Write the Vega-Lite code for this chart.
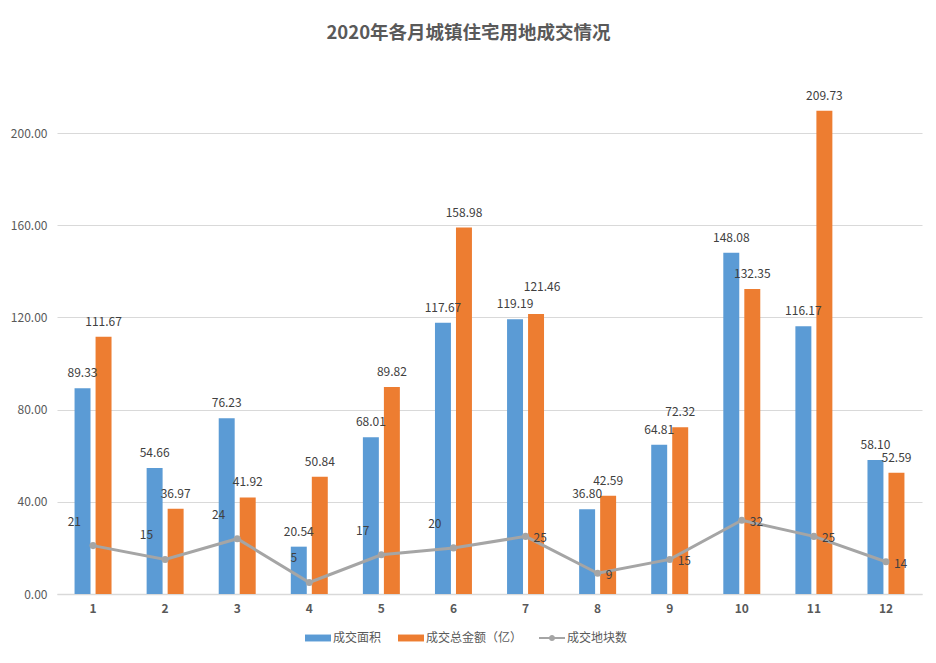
{
  "$schema": "https://vega.github.io/schema/vega-lite/v6.json",
  "autosize": "none",
  "width": 865,
  "height": 507,
  "padding": {"left": 57, "top": 87, "right": 14, "bottom": 69},
  "background": "white",
  "config": {
    "font": "Noto Sans CJK SC",
    "view": {"stroke": null}
  },
  "title": {
    "text": "2020年各月城镇住宅用地成交情况",
    "fontSize": 18.5,
    "fontWeight": "bold",
    "color": "#595959",
    "anchor": "middle",
    "dx": -21,
    "offset": 45
  },
  "data": {
    "values": [
      {"month": 1, "series": "成交面积", "value": 89.33},
      {"month": 1, "series": "成交总金额（亿）", "value": 111.67},
      {"month": 1, "series": "成交地块数", "value": 21},
      {"month": 2, "series": "成交面积", "value": 54.66},
      {"month": 2, "series": "成交总金额（亿）", "value": 36.97},
      {"month": 2, "series": "成交地块数", "value": 15},
      {"month": 3, "series": "成交面积", "value": 76.23},
      {"month": 3, "series": "成交总金额（亿）", "value": 41.92},
      {"month": 3, "series": "成交地块数", "value": 24},
      {"month": 4, "series": "成交面积", "value": 20.54},
      {"month": 4, "series": "成交总金额（亿）", "value": 50.84},
      {"month": 4, "series": "成交地块数", "value": 5},
      {"month": 5, "series": "成交面积", "value": 68.01},
      {"month": 5, "series": "成交总金额（亿）", "value": 89.82},
      {"month": 5, "series": "成交地块数", "value": 17},
      {"month": 6, "series": "成交面积", "value": 117.67},
      {"month": 6, "series": "成交总金额（亿）", "value": 158.98},
      {"month": 6, "series": "成交地块数", "value": 20},
      {"month": 7, "series": "成交面积", "value": 119.19},
      {"month": 7, "series": "成交总金额（亿）", "value": 121.46},
      {"month": 7, "series": "成交地块数", "value": 25},
      {"month": 8, "series": "成交面积", "value": 36.80},
      {"month": 8, "series": "成交总金额（亿）", "value": 42.59},
      {"month": 8, "series": "成交地块数", "value": 9},
      {"month": 9, "series": "成交面积", "value": 64.81},
      {"month": 9, "series": "成交总金额（亿）", "value": 72.32},
      {"month": 9, "series": "成交地块数", "value": 15},
      {"month": 10, "series": "成交面积", "value": 148.08},
      {"month": 10, "series": "成交总金额（亿）", "value": 132.35},
      {"month": 10, "series": "成交地块数", "value": 32},
      {"month": 11, "series": "成交面积", "value": 116.17},
      {"month": 11, "series": "成交总金额（亿）", "value": 209.73},
      {"month": 11, "series": "成交地块数", "value": 25},
      {"month": 12, "series": "成交面积", "value": 58.10},
      {"month": 12, "series": "成交总金额（亿）", "value": 52.59},
      {"month": 12, "series": "成交地块数", "value": 14}
    ]
  },
  "encoding": {
    "x": {
      "field": "month",
      "type": "ordinal",
      "scale": {"paddingInner": 0.487, "paddingOuter": 0.2435},
      "axis": {
        "title": null,
        "labelAngle": 0,
        "labelFontWeight": "bold",
        "labelFontSize": 12,
        "labelColor": "#595959",
        "labelPadding": 9,
        "ticks": false,
        "domainColor": "#D9D9D9",
        "domainWidth": 1.5
      }
    },
    "y": {
      "field": "value",
      "type": "quantitative",
      "scale": {"domain": [0, 220], "nice": false},
      "axis": {
        "title": null,
        "values": [0, 40, 80, 120, 160, 200],
        "format": ".2f",
        "labelFontSize": 12,
        "labelColor": "#595959",
        "labelPadding": 10,
        "ticks": false,
        "domain": false,
        "gridColor": "#D9D9D9",
        "gridWidth": 1.2
      }
    },
    "color": {
      "field": "series",
      "type": "nominal",
      "scale": {
        "domain": ["成交面积", "成交总金额（亿）", "成交地块数"],
        "range": ["#5B9BD5", "#ED7D31", "#A5A5A5"]
      },
      "legend": {
        "title": null,
        "orient": "none",
        "direction": "horizontal",
        "legendX": 252,
        "legendY": 542,
        "labelFontSize": 12,
        "labelColor": "#595959",
        "symbolSize": 300,
        "symbolStrokeWidth": 0,
        "labelOffset": 6,
        "columnPadding": 16,
        "encode": {
          "symbols": {
            "update": {
              "shape": {"signal": "datum.value === '成交地块数' ? 'M-1.5,-0.12H1.5V0.12H-1.5Z M-0.35,0A0.35,0.35 0 1,1 0.35,0A0.35,0.35 0 1,1 -0.35,0Z' : 'M-1.5,-0.4H1.5V0.4H-1.5Z'"},
              "fill": {"signal": "scale('color', datum.value)"},
              "fillOpacity": {"value": 1},
              "strokeWidth": {"value": 0}
            }
          }
        }
      }
    }
  },
  "layer": [
    {
      "transform": [{"filter": "datum.series !== '成交地块数'"}],
      "mark": {"type": "bar"},
      "encoding": {
        "xOffset": {
          "field": "series",
          "type": "nominal",
          "sort": ["成交面积", "成交总金额（亿）"],
          "scale": {"paddingInner": 0.24, "paddingOuter": 0}
        }
      }
    },
    {
      "transform": [{"filter": "datum.series !== '成交地块数' && !(datum.month === 7 && datum.series === '成交总金额（亿）')"}],
      "mark": {"type": "text", "baseline": "bottom", "dy": -8, "fontSize": 12, "color": "#404040"},
      "encoding": {
        "xOffset": {
          "field": "series",
          "type": "nominal",
          "sort": ["成交面积", "成交总金额（亿）"],
          "scale": {"paddingInner": 0.24, "paddingOuter": 0}
        },
        "text": {"field": "value", "type": "quantitative", "format": ".2f"},
        "color": {"value": "#404040"}
      }
    },
    {
      "transform": [{"filter": "datum.month === 7 && datum.series === '成交总金额（亿）'"}],
      "mark": {"type": "text", "baseline": "bottom", "dy": -20, "dx": 6, "fontSize": 12, "color": "#404040"},
      "encoding": {
        "xOffset": {
          "field": "series",
          "type": "nominal",
          "sort": ["成交面积", "成交总金额（亿）"],
          "scale": {"paddingInner": 0.24, "paddingOuter": 0}
        },
        "text": {"field": "value", "type": "quantitative", "format": ".2f"},
        "color": {"value": "#404040"}
      }
    },
    {
      "transform": [{"filter": "datum.series === '成交地块数'"}],
      "mark": {"type": "line", "strokeWidth": 3, "point": {"filled": true, "size": 50}}
    },
    {
      "transform": [{"filter": "datum.series === '成交地块数' && datum.month <= 6"}],
      "mark": {"type": "text", "align": "right", "dx": -12, "dy": -24, "fontSize": 12, "color": "#404040"},
      "encoding": {
        "text": {"field": "value", "type": "quantitative"},
        "color": {"value": "#404040"}
      }
    },
    {
      "transform": [{"filter": "datum.series === '成交地块数' && datum.month > 6"}],
      "mark": {"type": "text", "align": "left", "dx": 8, "dy": 2, "fontSize": 12, "color": "#404040"},
      "encoding": {
        "text": {"field": "value", "type": "quantitative"},
        "color": {"value": "#404040"}
      }
    }
  ]
}
